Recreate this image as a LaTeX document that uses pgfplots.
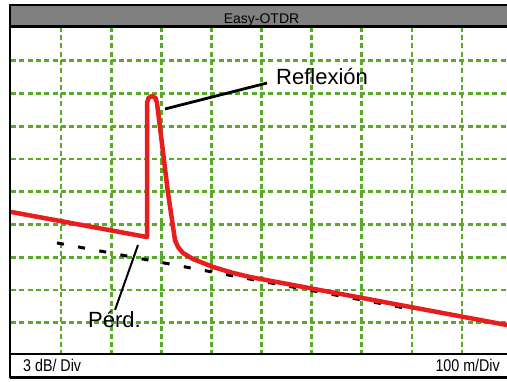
\documentclass[border=0pt]{standalone}
\usepackage{fontspec}
\setmainfont{Liberation Sans}
\newfontfamily\narrowfont[FakeStretch=0.84]{Liberation Sans}
\usepackage{pgfplots}
\pgfplotsset{compat=1.18}
\definecolor{otdrred}{RGB}{232,30,30}
\definecolor{gridgreen}{RGB}{88,170,40}
\definecolor{bargray}{RGB}{128,128,128}
\begin{document}
\begin{tikzpicture}[x=1pt,y=1pt]
\useasboundingbox (0,0) rectangle (507,382);
\begin{axis}[at={(11pt,26.5pt)}, anchor=south west, scale only axis,
  width=501pt, height=327.5pt,
  xmin=0, xmax=1000, ymin=0, ymax=30,
  xtick={100,200,...,900}, ytick={3,6,...,27},
  xticklabels={}, yticklabels={},
  major tick length=0pt, tick style={draw=none},
  axis line style={draw=none},
  grid=major,
  major grid style={gridgreen, line width=2.6pt, dash pattern=on 5pt off 3.3pt}]
\addplot[black, line width=3pt, dash pattern=on 7pt off 14.5pt] coordinates {(91.8,10.31) (796.4,4.26)};
\addplot[otdrred, line width=4.5pt, line join=round, line cap=round] coordinates {
(0,13.15) (271.5,10.85) (271.5,23.13) (274.5,23.59) (281.4,23.77) (288.4,23.59) (291.4,23.13)
(313.4,14.89) (327.3,10.58) (333.3,9.94) (343.3,9.39) (363.3,8.84) (403.2,8.11)
(443.1,7.56) (477,7.19) (990,2.79) (1000,2.70)};
\draw[black, line width=2.8pt] (axis cs:307.4,22.58) -- (axis cs:511,24.96);
\draw[black, line width=2pt] (axis cs:253.5,10.12) -- (axis cs:207.6,4.17);
\node[anchor=base west, inner sep=0pt, font=\fontsize{22}{24}\selectfont] at (axis cs:529,24.78) {Reflexión};
\node[anchor=base west, inner sep=0pt, font=\fontsize{22}{24}\selectfont] at (axis cs:153.7,2.61) {Pérd.};
\end{axis}
% title bar
\fill[bargray] (10,377) rectangle (515,356);
\draw[line width=1.5pt] (10,377) -- (515,377);
\draw[line width=3pt] (10,355.5) -- (515,355.5);
\node[anchor=base, inner sep=0pt, font=\fontsize{14}{16}\selectfont] at (261.5,358) {Easy-OTDR};
% bottom bar
\fill[white] (10,27) rectangle (515,5);
\draw[line width=2.6pt] (10,28) -- (515,28);
\draw[line width=2.5pt] (10,4.7) -- (515,4.7);
\node[anchor=base west, inner sep=0pt, font=\narrowfont\fontsize{17}{18}\selectfont] at (23,10.3) {3 dB/ Div};
\node[anchor=base east, inner sep=0pt, font=\narrowfont\fontsize{17}{18}\selectfont] at (500,10.3) {100 m/Div};
% left border
\draw[line width=2.5pt] (10,3.5) -- (10,377.7);
\end{tikzpicture}
\end{document}
